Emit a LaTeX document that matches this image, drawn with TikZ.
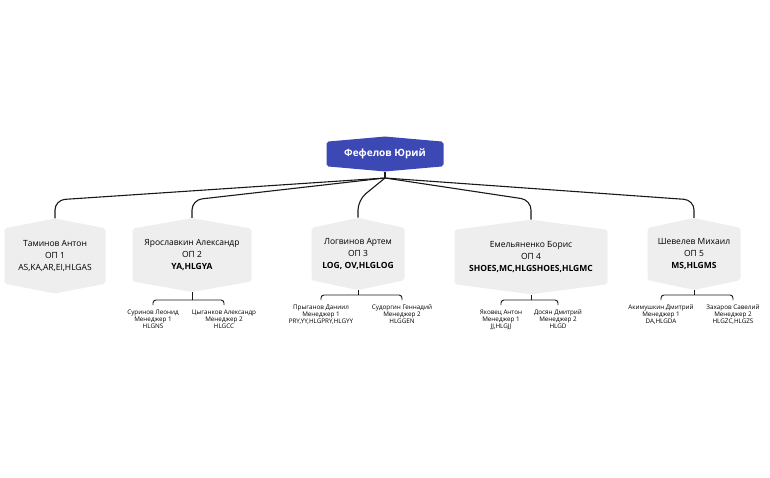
\documentclass[tikz,border=0pt]{standalone}
\usepackage{fontspec}
\setmainfont{Open Sans}
\usepackage{xcolor}
\usetikzlibrary{shapes.symbols}
\definecolor{bossblue}{RGB}{60,72,180}
\definecolor{opgray}{RGB}{238,238,238}

\begin{document}
\begin{tikzpicture}[x=1pt, y=-1pt,
  boss/.style={signal, signal to=north and south, signal pointer angle=170, fill=bossblue, text=white, font=\fontsize{10}{12}\selectfont\bfseries, minimum width=117pt, minimum height=32pt, inner sep=1pt, rounded corners=2pt},
  op node/.style={signal, signal to=north and south, fill=opgray, align=center, font=\fontsize{8.5}{12}\selectfont, minimum height=70pt, inner sep=1pt, rounded corners=2pt},
  mgr node/.style={align=center, anchor=north, inner xsep=1pt, inner ysep=5pt, font=\fontsize{6.3}{7}\selectfont},
  link/.style={draw=black!90, line width=1.1pt, rounded corners=10pt},
  fork/.style={draw=black!90, line width=0.9pt, rounded corners=3pt}]
\useasboundingbox (0,0) rectangle (770,477);
\node[boss] (0) at (385,154) {Фефелов Юрий};
\node[op node, minimum width=101pt, signal pointer angle=158] (1) at (55,256) {Таминов Антон\\ОП 1\\AS,KA,AR,EI,HLGAS};
\node[op node, minimum width=119pt, signal pointer angle=160] (2) at (192,255) {Ярославкин Александр\\ОП 2\\\textbf{YA,HLGYA}};
\node[op node, minimum width=93pt, minimum height=68pt, signal pointer angle=156] (3) at (358,254) {Логвинов Артем\\ОП 3\\\textbf{LOG, OV,HLGLOG}};
\node[op node, minimum width=153pt, minimum height=71pt, signal pointer angle=165] (4) at (531,257) {Емельяненко Борис\\ОП 4\\\textbf{SHOES,MC,HLGSHOES,HLGMC}};
\node[op node, minimum width=93pt, minimum height=68pt, signal pointer angle=156] (5) at (694,254) {Шевелев Михаил\\ОП 5\\\textbf{MS,HLGMS}};
\node[mgr node] (21) at (153,305) {Суринов Леонид\\Менеджер 1\\HLGNS};
\node[mgr node] (22) at (224,305) {Цыганков Александр\\Менеджер 2\\HLGCC};
\node[mgr node] (31) at (321,300) {Прыганов Даниил\\Менеджер 1\\PRY,YY,HLGPRY,HLGYY};
\node[mgr node] (32) at (402,300) {Судоргин Геннадий\\Менеджер 2\\HLGGEN};
\node[mgr node] (41) at (501,305) {Яковец Антон\\Менеджер 1\\JJ,HLGJJ};
\node[mgr node] (42) at (558,305) {Досян Дмитрий\\Менеджер 2\\HLGD};
\node[mgr node] (51) at (661,300) {Акимушкин Дмитрий\\Менеджер 1\\DA,HLGDA};
\node[mgr node] (52) at (733,300) {Захаров Савелий\\Менеджер 2\\HLGZC,HLGZS};
\coordinate (h) at (385,178);
\coordinate (hb) at (385,200);
\draw[link] (0.south) -- (h);
\foreach \n in {1,...,5}
  \draw[link] (h) -- (\n.north |- hb) -- (\n.north);
% managers
\foreach \n in {2,...,5} {
  \draw[fork] (\n1.north) -- ++(0,-5) coordinate (f\n) -| (\n2.north);
  \draw[fork] (\n.south) -- (\n.south |- f\n);
}
\end{tikzpicture}
\end{document}
